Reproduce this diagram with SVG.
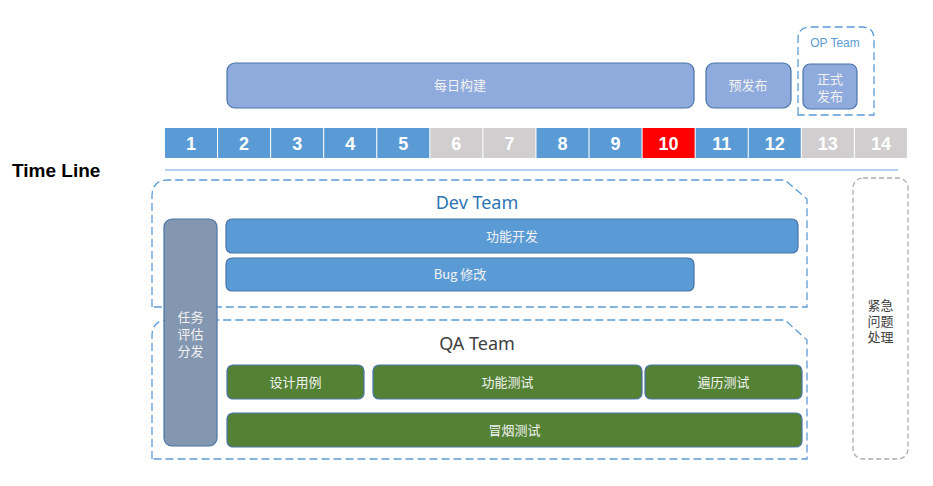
<svg xmlns="http://www.w3.org/2000/svg" width="933" height="486" viewBox="0 0 933 486">
<style>
.bg{fill:#ffffff}
.cell{stroke:none}
.blue{fill:#5B9BD5}
.grey{fill:#D0CECE}
.red{fill:#FF0000}
.num{font-family:"Liberation Sans",Arial,sans-serif;font-size:18px;font-weight:bold;fill:#FFFFFF;text-anchor:middle}
.lbl{font-family:"Noto Sans CJK SC","Liberation Sans",sans-serif;font-size:13px;fill:#F2F2F2;text-anchor:middle}
.dark{fill:#404040}
.build{fill:#8FAADC;stroke:#4A74A8;stroke-width:1.2}
.dev{fill:#5B9BD5;stroke:#4A74A8;stroke-width:1.2}
.qa{fill:#548235;stroke:#4A74A8;stroke-width:1.2}
.task{fill:#8497B0;stroke:#4A74A8;stroke-width:1.2}
.team{fill:none;stroke:#5B9BD5;stroke-width:1.3;stroke-dasharray:8 4}
.emg{fill:none;stroke:#AFABAB;stroke-width:1.3;stroke-dasharray:5 3}
.title{font-family:"Noto Sans","Liberation Sans",sans-serif;font-size:18px;text-anchor:middle}
</style>
<rect class="bg" x="0" y="0" width="933" height="486"/>
<text x="12" y="177" font-family="Liberation Sans,Arial,sans-serif" font-size="19" font-weight="bold" fill="#000000">Time Line</text>
<g id="timeline">
<rect class="cell blue" x="165" y="128" width="52" height="30"/>
<rect class="cell blue" x="218.07" y="128" width="52" height="30"/>
<rect class="cell blue" x="271.14" y="128" width="52" height="30"/>
<rect class="cell blue" x="324.21" y="128" width="52" height="30"/>
<rect class="cell blue" x="377.28" y="128" width="52" height="30"/>
<rect class="cell grey" x="430.35" y="128" width="52" height="30"/>
<rect class="cell grey" x="483.42" y="128" width="52" height="30"/>
<rect class="cell blue" x="536.49" y="128" width="52" height="30"/>
<rect class="cell blue" x="589.56" y="128" width="52" height="30"/>
<rect class="cell red" x="642.63" y="128" width="52" height="30"/>
<rect class="cell blue" x="695.7" y="128" width="52" height="30"/>
<rect class="cell blue" x="748.77" y="128" width="52" height="30"/>
<rect class="cell grey" x="801.84" y="128" width="52" height="30"/>
<rect class="cell grey" x="854.91" y="128" width="52" height="30"/>
<text class="num" x="191" y="150">1</text>
<text class="num" x="244.07" y="150">2</text>
<text class="num" x="297.14" y="150">3</text>
<text class="num" x="350.21" y="150">4</text>
<text class="num" x="403.28" y="150">5</text>
<text class="num" x="456.35" y="150">6</text>
<text class="num" x="509.42" y="150">7</text>
<text class="num" x="562.49" y="150">8</text>
<text class="num" x="615.56" y="150">9</text>
<text class="num" x="668.63" y="150">10</text>
<text class="num" x="721.7" y="150">11</text>
<text class="num" x="774.77" y="150">12</text>
<text class="num" x="827.84" y="150">13</text>
<text class="num" x="880.91" y="150">14</text>
<line x1="165" y1="170" x2="898" y2="170" stroke="#9DC3E6" stroke-width="1.3"/>
</g>
<g id="op-team">
<path class="team" d="M798,115 V39 Q798,27 810,27 H862 Q874,27 874,39 V115 Z"/>
<text x="835" y="47" font-family="Liberation Sans,Arial,sans-serif" font-size="12" fill="#5B9BD5" text-anchor="middle">OP Team</text>
</g>
<g id="daily-build">
<rect class="build" x="227" y="63" width="467" height="45" rx="8"/>
<text class="lbl" x="460" y="90">每日构建</text>
</g>
<g id="pre-release">
<rect class="build" x="706" y="63" width="85" height="45" rx="8"/>
<text class="lbl" x="748" y="90">预发布</text>
</g>
<g id="release">
<rect class="build" x="803" y="64" width="54" height="45" rx="7"/>
<text class="lbl" x="830" y="84"><tspan x="830" y="84">正式</tspan><tspan x="830" y="101">发布</tspan></text>
</g>
<g id="dev-team">
<path class="team" d="M152,307 V196 Q152,180 168,180 H785 L807,199 V307 Z"/>
<text class="title" x="477" y="209" fill="#2E75B6">Dev Team</text>
</g>
<g id="qa-team">
<path class="team" d="M152,459 V336 Q152,320 168,320 H785 L807,340 V459 Z"/>
<text class="title" x="477" y="350" fill="#404040">QA Team</text>
</g>
<g id="task-assign">
<rect class="task" x="164" y="219" width="53" height="227" rx="8"/>
<text class="lbl" x="190.5" y="322" font-size="14"><tspan x="190.5" y="322">任务</tspan><tspan x="190.5" y="339">评估</tspan><tspan x="190.5" y="356">分发</tspan></text>
</g>
<g id="feature-dev">
<rect class="dev" x="226" y="219" width="572" height="34" rx="6"/>
<text class="lbl" x="512" y="241">功能开发</text>
</g>
<g id="bug-fix">
<rect class="dev" x="226" y="258" width="468" height="33" rx="6"/>
<text class="lbl" x="460" y="279">Bug 修改</text>
</g>
<g id="test-design">
<rect class="qa" x="227" y="365" width="137" height="34" rx="6"/>
<text class="lbl" x="295.5" y="387">设计用例</text>
</g>
<g id="feature-test">
<rect class="qa" x="373" y="365" width="269" height="34" rx="6"/>
<text class="lbl" x="507.5" y="387">功能测试</text>
</g>
<g id="traverse-test">
<rect class="qa" x="645" y="365" width="157" height="34" rx="6"/>
<text class="lbl" x="723.5" y="387">遍历测试</text>
</g>
<g id="smoke-test">
<rect class="qa" x="227" y="413" width="575" height="34" rx="6"/>
<text class="lbl" x="514.5" y="435">冒烟测试</text>
</g>
<g id="emergency">
<rect class="emg" x="853" y="178" width="55" height="281" rx="10"/>
<text class="lbl dark" x="880.5" y="310" font-size="14"><tspan x="880.5" y="310">紧急</tspan><tspan x="880.5" y="326">问题</tspan><tspan x="880.5" y="342">处理</tspan></text>
</g>
<g id="connectors"></g>
</svg>
